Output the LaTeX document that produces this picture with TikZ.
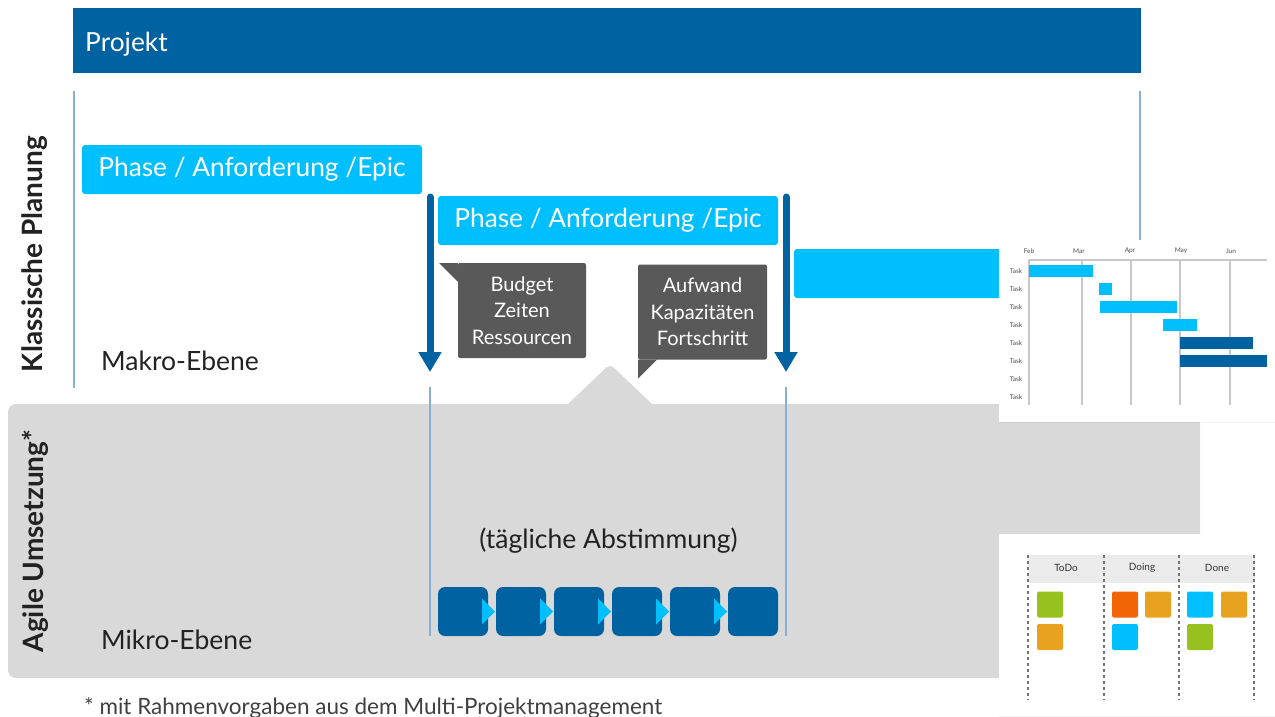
\documentclass[tikz,border=0pt]{standalone}
\usepackage{fontspec}
\setmainfont{Lato}
\usetikzlibrary{arrows.meta,shadows}
\definecolor{projektblue}{RGB}{0,98,160}
\definecolor{phasecyan}{RGB}{0,191,255}
\definecolor{calloutgray}{RGB}{89,89,89}
\definecolor{agilegray}{RGB}{217,217,217}
\definecolor{linebl}{RGB}{135,176,214}
\definecolor{textdark}{RGB}{34,34,34}
\definecolor{gridgray}{RGB}{200,200,200}
\definecolor{headergray}{RGB}{235,235,235}
\definecolor{notegreen}{RGB}{151,193,31}
\definecolor{noteorange}{RGB}{232,162,31}
\definecolor{notered}{RGB}{242,101,7}
\newcommand\fsz[2]{\fontsize{#1}{#2}\selectfont}
\begin{document}
\begin{tikzpicture}[x=1pt, y=-1pt,
  box/.style = {rectangle, inner sep=0pt, outer sep=0pt},
  phase/.style = {box, fill=phasecyan, text=white, rounded corners=3pt,
    minimum width=340pt, minimum height=49pt, font=\fsz{26.3}{31}},
  callout/.style = {box, fill=calloutgray, text=white, rounded corners=2pt,
    minimum height=95pt, align=center, font=\fsz{20}{26.5}},
  downarrow/.style = {draw=projektblue, line width=7pt, line cap=round,
    -{Triangle[width=22pt, length=20pt]}},
  thinline/.style = {draw=linebl, line width=2.5pt},
  stepbox/.style = {box, fill=projektblue, rounded corners=7pt,
    minimum width=50pt, minimum height=49pt},
  card/.style = {box, fill=white, minimum width=276pt, minimum height=182pt,
    drop shadow={shadow xshift=0pt, shadow yshift=-1pt, opacity=0.12}},
  tinytext/.style = {inner sep=0pt, text=black!70, font=\fsz{6.5}{8}},
  note/.style = {box, rounded corners=2pt, minimum size=26pt},
  label/.style = {inner sep=0pt, text=textdark, font=\fsz{26.5}{31}}]
\useasboundingbox (0,0) rectangle (1275,717);

\node[box, fill=agilegray, rounded corners=8pt, minimum width=1192pt,
  minimum height=274pt] (agile) at (604,541) {};
\fill[agilegray, rounded corners=5pt] (547,424) -- (610,364) -- (673,424) -- cycle;

\node[box, fill=projektblue, minimum width=1068pt, minimum height=65pt] (projekt) at (607,40.5) {};
\node[anchor=west, inner sep=0pt, text=white, font=\fsz{26.3}{31}] (projektlabel) at (85,44) {Projekt};

\begin{scope}[every path/.style = {thinline}]
\coordinate (l1a) at (74,91);   \coordinate (l1b) at (74,388);
\coordinate (l2a) at (1140,91); \coordinate (l2b) at (1140,388);
\coordinate (l3a) at (430,387); \coordinate (l3b) at (430,636);
\coordinate (l4a) at (786,387); \coordinate (l4b) at (786,636);
\draw (l1a) -- (l1b);
\draw (l2a) -- (l2b);
\draw (l3a) -- (l3b);
\draw (l4a) -- (l4b);
\end{scope}

\node[phase] (phase1) at (252,169.5) {Phase / Anforderung /Epic};
\node[phase] (phase2) at (608,220.5) {Phase / Anforderung /Epic};
\node[phase, minimum width=300pt] (phase3) at (944,273.5) {};

\node[callout, minimum width=128pt] (budget) at (522,310.5) {Budget\\Zeiten\\Ressourcen};
\node[callout, minimum width=129pt] (aufwand) at (702.5,312) {Aufwand\\Kapazitäten\\Fortschritt};
\fill[calloutgray] (budget.north west) -- ++(-19,0) -- ++(19,19) -- cycle;
\fill[calloutgray] (aufwand.south west) -- ++(0,19) -- ++(19,-19) -- cycle;

\coordinate (arrowtop1) at (430,197);
\coordinate (arrowtip1) at (430,372);
\coordinate (arrowtop2) at (786,197);
\coordinate (arrowtip2) at (786,372);
\draw[downarrow] (arrowtop1) -- (arrowtip1);
\draw[downarrow] (arrowtop2) -- (arrowtip2);

\node[rotate=90, inner sep=0pt, text=textdark, font=\bfseries\fsz{28}{33}] (klassisch) at (35,254) {Klassische Planung};
\node[rotate=90, inner sep=0pt, text=textdark, font=\bfseries\fsz{28}{33}] (agiletext) at (35,541) {Agile Umsetzung*};
\node[label, anchor=west] (makro) at (101,361) {Makro-Ebene};
\node[label, anchor=west] (mikro) at (101,640) {Mikro-Ebene};
\node[label] (abstimmung) at (608.5,541) {(tägliche Abstimmung)};
\node[anchor=west, inner sep=0pt, text=black!75, font=\fsz{22.5}{27}] (fussnote) at (84,708) {* mit Rahmenvorgaben aus dem Multi-Projektmanagement};

\foreach \i in {0,...,5}
  \node[stepbox] (s\i) at (463+58*\i, 611.5) {};
\foreach \i in {0,...,4}
  \fill[phasecyan] (s\i.east) ++(-6,-13) -- ++(13,13) -- ++(-13,13) -- cycle;

\node[card] (gantt) at (1137,331) {};
\foreach \m/\x in {Feb/1029, Mar/1079, Apr/1130, May/1181, Jun/1231}
  \node[tinytext] (m\m) at (\x,251) {\m};
\draw[gridgray, line width=1.2pt] (1028,260) -- (1267,260);
\foreach \x in {1029, 1082, 1131, 1180, 1230}
  \draw[gridgray, line width=1.2pt] (\x,260) -- (\x,405);
\foreach \r in {0,...,7}
  \node[tinytext] (task\r) at (1016,271+18*\r) {Task};
\foreach \a/\b/\r/\c in {1029/1093/0/phasecyan, 1099/1112/1/phasecyan,
    1100/1177/2/phasecyan, 1163/1197/3/phasecyan,
    1180/1253/4/projektblue, 1180/1267/5/projektblue}
  \fill[\c] (\a,265+18*\r) rectangle (\b,277+18*\r);

\node[card] (kanban) at (1137,625) {};
\fill[headergray] (1028,555) rectangle (1255,583);
\foreach \x in {1028, 1104, 1179, 1254}
  \draw[black!55, line width=1.2pt, dash pattern=on 3pt off 3pt] (\x,555) -- (\x,700);
\node[inner sep=0pt, text=black!80, font=\fsz{10}{12}] (todo) at (1066,568) {ToDo};
\node[inner sep=0pt, text=black!80, font=\fsz{10}{12}] (doing) at (1142,568) {Doing};
\node[inner sep=0pt, text=black!80, font=\fsz{10}{12}] (done) at (1217,568) {Done};
\node[note, fill=notegreen] (n1) at (1050,604.5) {};
\node[note, fill=noteorange] (n2) at (1050,637) {};
\node[note, fill=notered] (n3) at (1125,604.5) {};
\node[note, fill=noteorange] (n4) at (1158,604.5) {};
\node[note, fill=phasecyan] (n5) at (1125,637) {};
\node[note, fill=phasecyan] (n6) at (1200,604.5) {};
\node[note, fill=noteorange] (n7) at (1234,604.5) {};
\node[note, fill=notegreen] (n8) at (1200,637) {};
\end{tikzpicture}
\end{document}
